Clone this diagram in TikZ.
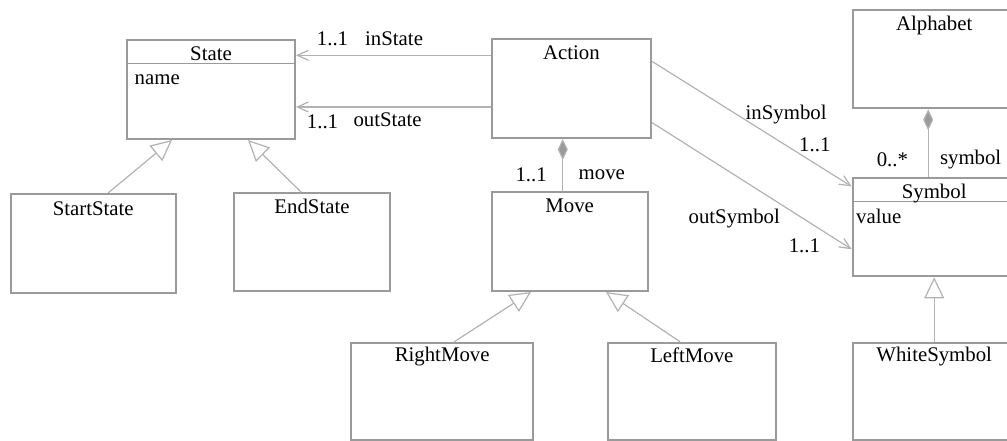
\documentclass[tikz,border=0pt]{standalone}
\usepackage{fontspec}
\setmainfont{Liberation Serif}
\usetikzlibrary{arrows.meta}
\definecolor{boxgray}{HTML}{9A9A9A}
\definecolor{linegray}{HTML}{B2B2B2}
\definecolor{diagray}{HTML}{9A9A9A}
\begin{document}
\begin{tikzpicture}[x=1pt, y=-1pt,
    every node/.style={font=\fontsize{20.8}{24}\selectfont},
    cls/.style={draw=boxgray, line width=2pt, rectangle, anchor=north west, inner sep=0pt},
    ttl/.style={anchor=base, inner sep=0pt},
    txt/.style={anchor=base west, inner sep=0pt},
    nav/.style={draw=linegray, line width=1.2pt, -{Straight Barb[length=11pt, width=10pt]}},
    gen/.style={draw=linegray, line width=1.2pt, -{Triangle[open, length=21pt, width=20pt, fill=white]}},
    comp/.style={draw=linegray, line width=1.2pt, {Diamond[length=21pt, width=10pt, fill=diagray]}-},
    sep/.style={draw=boxgray, line width=1.5pt}]
  \useasboundingbox (0,0) rectangle (1007,440);
  \clip (0,0) rectangle (1007,440);
  % classes
  \node[cls, minimum width=168pt, minimum height=99pt] (state) at (126,39) {};
  \node[cls, minimum width=165.5pt, minimum height=99pt] (startstate) at (9.5,193) {};
  \node[cls, minimum width=156pt, minimum height=98pt] (endstate) at (233,192) {};
  \node[cls, minimum width=159.5pt, minimum height=99pt] (action) at (490.7,38) {};
  \node[cls, minimum width=156pt, minimum height=99pt] (move) at (490.7,191) {};
  \node[cls, minimum width=182.3pt, minimum height=97.3pt] (rightmove) at (350,341.7) {};
  \node[cls, minimum width=168.3pt, minimum height=97.3pt] (leftmove) at (606.7,341.7) {};
  \node[cls, minimum width=163pt, minimum height=98pt] (alphabet) at (851.7,9.3) {};
  \node[cls, minimum width=163pt, minimum height=98pt] (symbol) at (851.7,177.3) {};
  \node[cls, minimum width=163pt, minimum height=97.3pt] (whitesymbol) at (851.7,341.7) {};
  % compartments
  \draw[sep] ([yshift=-24.3pt]state.north west) -- ([yshift=-24.3pt]state.north east);
  \draw[sep] ([yshift=-24pt]symbol.north west) -- ([yshift=-24pt]symbol.north east);
  % class names
  \node[ttl] (stateT) at ([yshift=-21.5pt]state.north) {State};
  \node[ttl] (startstateT) at ([yshift=-22pt]startstate.north) {StartState};
  \node[ttl] (endstateT) at ([yshift=-21.5pt]endstate.north) {EndState};
  \node[ttl] (actionT) at ([yshift=-21.5pt]action.north) {Action};
  \node[ttl] (moveT) at ([yshift=-21pt]move.north) {Move};
  \node[ttl] (rightmoveT) at ([yshift=-20pt]rightmove.north) {RightMove};
  \node[ttl] (leftmoveT) at ([yshift=-21pt]leftmove.north) {LeftMove};
  \node[ttl] (alphabetT) at ([yshift=-21.5pt]alphabet.north) {Alphabet};
  \node[ttl] (symbolT) at ([yshift=-21pt]symbol.north) {Symbol};
  \node[ttl] (whitesymbolT) at ([yshift=-20pt]whitesymbol.north) {WhiteSymbol};
  % attributes
  \node[txt] (stateA) at (134.5,84) {name};
  \node[txt] (symbolA) at (856,223) {value};
  % associations
  \draw[nav] ([yshift=33.2pt]action.west) -- ([yshift=33.2pt]action.west -| state.east);
  \draw[nav] ([yshift=-18.5pt]action.west) -- ([yshift=-18.5pt]action.west -| state.east);
  \draw[nav] ([yshift=27pt]action.east) -- ([yshift=40.8pt]symbol.west);
  \draw[nav] ([yshift=-34.2pt]action.east) -- ([yshift=-22pt]symbol.west);
  \draw[comp] ([xshift=-8.7pt]action.south) -- ([xshift=-8.7pt]action.south |- move.north);
  \draw[comp] ([xshift=-6pt]alphabet.south) -- ([xshift=-6pt]alphabet.south |- symbol.north);
  % generalizations
  \draw[gen] ([xshift=14.75pt]startstate.north) -- ([xshift=-39pt]state.south);
  \draw[gen] ([xshift=-11pt]endstate.north) -- ([xshift=37pt]state.south);
  \draw[gen] ([xshift=12.2pt]rightmove.north) -- ([xshift=-38.7pt]move.south);
  \draw[gen] ([xshift=-11.85pt]leftmove.north) -- ([xshift=36.3pt]move.south);
  \draw[gen] (whitesymbol.north) -- (symbol.south);
  % role names and multiplicities
  \node[txt] (inStateM) at (316.7,45) {1..1};
  \node[txt] (inStateL) at (365,45) {inState};
  \node[txt] (outStateM) at (306.7,128.3) {1..1};
  \node[txt] (outStateL) at (353.3,126) {outState};
  \node[txt] (inSymbolL) at (745.5,119.3) {inSymbol};
  \node[txt] (inSymbolM) at (799,151) {1..1};
  \node[txt] (outSymbolL) at (688.4,223.5) {outSymbol};
  \node[txt] (outSymbolM) at (788.6,252.8) {1..1};
  \node[txt] (moveM) at (515.3,181.5) {1..1};
  \node[txt] (moveL) at (578.5,179.8) {move};
  \node[txt] (symbolM) at (876.6,166.4) {0..*};
  \node[txt] (symbolL) at (939.8,164.7) {symbol};
\end{tikzpicture}
\end{document}
